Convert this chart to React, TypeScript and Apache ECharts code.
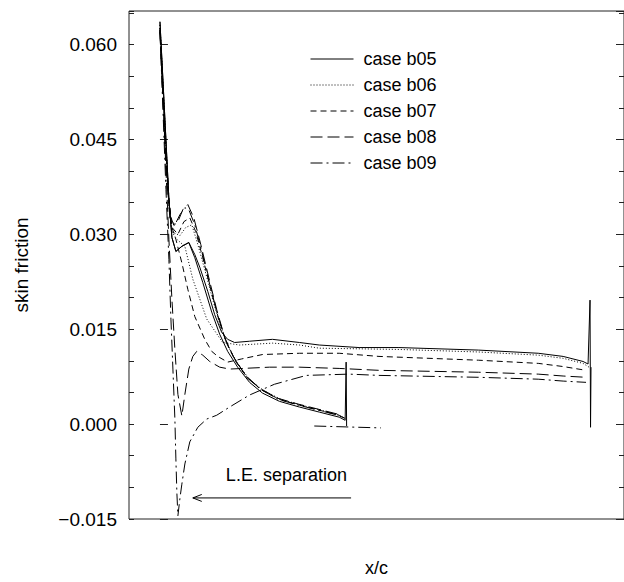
import React, { useEffect, useRef } from "react";
import * as echarts from "echarts";

const FONT = "'Liberation Sans', Arial, Helvetica, sans-serif";

const caseNames = ["case b05", "case b06", "case b07", "case b08", "case b09"];
const yMin = -0.015;
const yMax = 0.0653;
const yMajor = 0.015;
const yMinor = 0.005;
const xMin = -0.072;
const xMax = 1.079;

const b05Upper = [
  [0, 0.0636], [0.0069, 0.0544], [0.0139, 0.0449], [0.0208, 0.0355], [0.0278, 0.0295],
  [0.037, 0.0273], [0.0509, 0.0281], [0.0671, 0.0287], [0.081, 0.0268], [0.0926, 0.0248],
  [0.1111, 0.021], [0.1273, 0.0173], [0.1435, 0.0145], [0.1574, 0.0134], [0.1736, 0.0129],
  [0.2083, 0.0131], [0.2616, 0.0134], [0.3241, 0.0129], [0.3704, 0.0125], [0.463, 0.0121],
  [0.5556, 0.0121], [0.7407, 0.0117], [0.8796, 0.0112], [0.9375, 0.0107], [0.9838, 0.0099],
  [0.9954, 0.0095], [1.0, 0.0196], [1.0012, -0.0005], [1.0023, 0.009],
];
const b05Lower = [
  [0, 0.0636], [0.0069, 0.0544], [0.0139, 0.0449], [0.0208, 0.0355], [0.0278, 0.0295],
  [0.037, 0.0273], [0.0509, 0.0281], [0.0671, 0.0287], [0.081, 0.0263], [0.0995, 0.0224],
  [0.1204, 0.0177], [0.1389, 0.0142], [0.1574, 0.0115], [0.1806, 0.009], [0.2083, 0.0066],
  [0.2384, 0.0049], [0.2778, 0.0036], [0.3241, 0.0027], [0.3704, 0.0019], [0.4167, 0.0011],
  [0.4306, 0.0006], [0.4329, 0.0098], [0.434, -0.0003],
];
const b06Upper = [
  [0, 0.0631], [0.0069, 0.0536], [0.0139, 0.0442], [0.0208, 0.0347], [0.0278, 0.0304],
  [0.0394, 0.0292], [0.0579, 0.0281], [0.0764, 0.0229], [0.1088, 0.0166], [0.1458, 0.0129],
  [0.1852, 0.0125], [0.2616, 0.0128], [0.3241, 0.0125], [0.3704, 0.012], [0.5556, 0.0118],
  [0.7407, 0.0114], [0.8796, 0.0109], [0.9375, 0.0104], [0.9838, 0.0096], [0.9977, 0.009],
];
const b06Lower = [
  [0, 0.0631], [0.0069, 0.0536], [0.0139, 0.0442], [0.0208, 0.0347], [0.0278, 0.0304],
  [0.0463, 0.0298], [0.0602, 0.0311], [0.0741, 0.0315], [0.088, 0.0284], [0.1042, 0.0244],
  [0.1227, 0.0197], [0.1412, 0.0153], [0.1597, 0.0121], [0.1829, 0.0093], [0.2106, 0.0069],
  [0.2431, 0.0052], [0.2824, 0.0039], [0.3287, 0.003], [0.375, 0.0022], [0.4167, 0.0014],
  [0.4306, 0.0008],
];
const b07Upper = [
  [0, 0.0626], [0.0069, 0.0528], [0.0139, 0.0434], [0.0208, 0.0355], [0.0278, 0.0311],
  [0.037, 0.0292], [0.0509, 0.0255], [0.0648, 0.0213], [0.081, 0.017], [0.1042, 0.0134],
  [0.1204, 0.0115], [0.1343, 0.0107], [0.1574, 0.0098], [0.1898, 0.0103], [0.2384, 0.011],
  [0.3241, 0.0112], [0.4167, 0.0112], [0.5093, 0.0107], [0.7407, 0.0101], [0.8796, 0.0096],
  [0.9375, 0.0091], [0.9907, 0.0085],
];
const b07Lower = [
  [0, 0.0626], [0.0069, 0.0528], [0.0139, 0.0434], [0.0208, 0.0355], [0.0278, 0.0311],
  [0.0417, 0.03], [0.0556, 0.032], [0.0694, 0.0326], [0.0833, 0.0304], [0.0995, 0.0263],
  [0.1181, 0.0213], [0.1366, 0.0166], [0.1551, 0.0128], [0.1759, 0.0099], [0.2037, 0.0073],
  [0.2361, 0.0054], [0.2778, 0.0039], [0.3241, 0.003], [0.3704, 0.0022], [0.4167, 0.0014],
  [0.4306, 0.0008],
];
const b08Upper = [
  [0, 0.0623], [0.0069, 0.052], [0.0139, 0.0402], [0.0208, 0.0292], [0.0278, 0.0197],
  [0.0347, 0.0118], [0.0417, 0.0047], [0.0509, 0.0013], [0.0579, 0.0047], [0.0671, 0.0087],
  [0.0764, 0.0107], [0.0856, 0.0115], [0.0995, 0.0109], [0.1157, 0.0099], [0.1389, 0.009],
  [0.162, 0.0087], [0.2546, 0.009], [0.3241, 0.009], [0.4167, 0.0088], [0.5093, 0.0085],
  [0.7407, 0.0082], [0.8796, 0.0079], [0.9375, 0.0076], [0.9907, 0.0074],
];
const b08Lower = [
  [0, 0.0623], [0.0069, 0.052], [0.0139, 0.0418], [0.0231, 0.0331], [0.0324, 0.0314],
  [0.0417, 0.032], [0.0532, 0.0339], [0.0648, 0.0347], [0.0787, 0.0326], [0.0949, 0.0284],
  [0.1134, 0.0232], [0.1319, 0.0181], [0.1505, 0.0137], [0.1713, 0.0106], [0.1991, 0.0077],
  [0.2315, 0.0057], [0.2731, 0.0041], [0.3194, 0.0032], [0.3657, 0.0024], [0.412, 0.0016],
  [0.4306, 0.0009],
];
const b09Upper = [
  [0, 0.062], [0.0069, 0.0497], [0.0139, 0.0371], [0.0208, 0.026], [0.0255, 0.0166],
  [0.0301, 0.0087], [0.0347, 0.0008], [0.037, -0.0055], [0.0394, -0.011], [0.0417, -0.0145],
  [0.0463, -0.0118], [0.0509, -0.0095], [0.0579, -0.0063], [0.0694, -0.0028], [0.088, -0.0005],
  [0.1088, 0.0008], [0.1319, 0.0014], [0.162, 0.0027], [0.2083, 0.0046], [0.2662, 0.0063],
  [0.3403, 0.0077], [0.4398, 0.0079], [0.5093, 0.0077], [0.7407, 0.0074], [0.8796, 0.0071],
  [0.9375, 0.0068], [0.9907, 0.0066],
];
const b09Lower = [
  [0, 0.062], [0.0069, 0.0513], [0.0139, 0.0405], [0.0231, 0.0326], [0.0347, 0.0315],
  [0.0463, 0.0331], [0.0579, 0.0342], [0.0671, 0.0339], [0.081, 0.0315], [0.0972, 0.0273],
  [0.1157, 0.0221], [0.1343, 0.0172], [0.1528, 0.0132], [0.1736, 0.0103], [0.2014, 0.0074],
  [0.2338, 0.0055], [0.2755, 0.0039], [0.3218, 0.003], [0.3681, 0.0022], [0.4144, 0.0014],
  [0.4306, 0.0008],
];
const b09Tail = [
  [0.3588, -0.0003], [0.5139, -0.0006],
];

// annotation (data coordinates)
const arrowShaft = [[0.4444, -0.01167], [0.0764, -0.01167]];
const arrowHead = [[0.0972, -0.01112], [0.0764, -0.01167], [0.0972, -0.01222]];
const annotationText = "L.E. separation";
const annotationPos = [0.294, -0.0081];

const caseSeries: [number, number[][][]][] = [
  [0, [b05Upper, b05Lower]],
  [1, [b06Upper, b06Lower]],
  [2, [b07Upper, b07Lower]],
  [3, [b08Upper, b08Lower]],
  [4, [b09Upper, b09Lower, b09Tail]],
];
const lineTypes: any[] = ["solid", [1, 2], [6, 4], [12, 5], [12, 4, 2, 4]];

export default function App() {
  const ref = useRef<HTMLDivElement>(null);
  useEffect(() => {
    if (!ref.current) return;
    const chart = echarts.init(ref.current, null, { renderer: "svg" });
    const series: any[] = [];
    caseSeries.forEach(([idx, parts]) => {
      parts.forEach((data) => {
        series.push({
          name: caseNames[idx],
          type: "line",
          data,
          symbol: "none",
          showSymbol: false,
          silent: true,
          lineStyle: { color: "#000", width: 1, type: lineTypes[idx] },
          itemStyle: { color: "#000" },
          z: 3,
        });
      });
    });
    [arrowShaft, arrowHead].forEach((data) => {
      series.push({
        name: "arrow",
        type: "line",
        data,
        symbol: "none",
        silent: true,
        lineStyle: { color: "#000", width: 1 },
        z: 3,
      });
    });

    const fmt = (v: number) => {
      const s = Math.abs(v).toFixed(3);
      return v < -1e-9 ? "\u2212" + s : s;
    };
    const yBase = { type: "value", min: yMin, max: yMax, splitLine: { show: false }, axisLine: { show: false } };

    chart.setOption({
      animation: false,
      backgroundColor: "#fff",
      grid: {
        left: 129, right: -2, top: 11, bottom: 62,
        show: true, borderColor: "#222", borderWidth: 1, backgroundColor: "transparent",
      },
      legend: {
        data: caseNames,
        orient: "vertical",
        left: 310,
        top: 50,
        padding: 0,
        itemWidth: 43,
        itemHeight: 14,
        itemGap: 8,
        selectedMode: false,
        itemStyle: { color: "rgba(0,0,0,0)", borderColor: "rgba(0,0,0,0)", borderWidth: 0, opacity: 0 },
        lineStyle: { color: "#000", width: 1, opacity: 1 },
        textStyle: { fontSize: 18, fontFamily: FONT, color: "#000", padding: [0, 0, 0, 5] },
      },
      xAxis: {
        type: "value",
        min: xMin,
        max: xMax,
        name: "x/c",
        nameLocation: "middle",
        nameGap: 40,
        nameTextStyle: { fontSize: 18, fontFamily: FONT, color: "#000" },
        axisLine: { show: false },
        axisTick: { show: false },
        axisLabel: { show: false },
        splitLine: { show: false },
      },
      yAxis: [
        {
          ...yBase,
          position: "left",
          interval: yMajor,
          name: "skin friction",
          nameLocation: "middle",
          nameGap: 98,
          nameTextStyle: { fontSize: 19, fontFamily: FONT, color: "#000" },
          axisTick: { show: true, inside: true, length: 8, lineStyle: { color: "#222" } },
          axisLabel: { show: true, formatter: fmt, fontSize: 19, fontFamily: FONT, color: "#000", margin: 12, showMaxLabel: false },
        },
        {
          ...yBase,
          position: "left",
          interval: yMinor,
          axisTick: { show: true, inside: true, length: 5, lineStyle: { color: "#222" } },
          axisLabel: { show: false },
        },
        {
          ...yBase,
          position: "right",
          interval: yMajor,
          axisTick: { show: true, inside: true, length: 8, lineStyle: { color: "#222" } },
          axisLabel: { show: false },
        },
        {
          ...yBase,
          position: "right",
          interval: yMinor,
          axisTick: { show: true, inside: true, length: 5, lineStyle: { color: "#222" } },
          axisLabel: { show: false },
        },
      ],
      series,
    });

    const p = chart.convertToPixel({ xAxisIndex: 0, yAxisIndex: 0 }, annotationPos) as number[];
    chart.setOption({
      graphic: [
        {
          type: "text",
          x: p[0],
          y: p[1],
          silent: true,
          style: {
            text: annotationText,
            fontSize: 18,
            fontFamily: FONT,
            fill: "#000",
            align: "center",
            verticalAlign: "middle",
            textAlign: "center",
            textVerticalAlign: "middle",
          },
        },
      ],
    });

    return () => chart.dispose();
  }, []);
  return (
    <div
      ref={ref}
      style={{ position: "fixed", left: 0, top: 0, width: 624, height: 582, background: "#fff" }}
    />
  );
}
